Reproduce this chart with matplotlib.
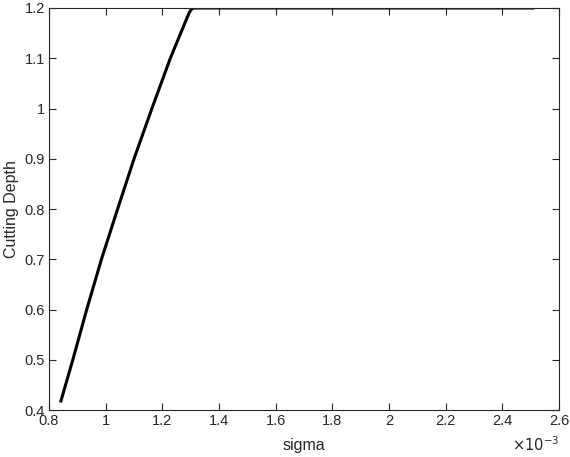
import matplotlib
matplotlib.use('Agg')
from matplotlib import pyplot as plt
from matplotlib.ticker import FuncFormatter

# Werte (sigma in Einheiten von 1e-3)
sigma = [0.842, 0.884, 0.933, 0.985, 1.042, 1.100, 1.163, 1.228, 1.294, 1.303, 1.312, 2.507]
depth = [0.418, 0.50, 0.60, 0.70, 0.80, 0.90, 1.00, 1.10, 1.19, 1.198, 1.20, 1.20]

x_ticks = [0.8, 1.0, 1.2, 1.4, 1.6, 1.8, 2.0, 2.2, 2.4, 2.6]
y_ticks = [0.4, 0.5, 0.6, 0.7, 0.8, 0.9, 1.0, 1.1, 1.2]

plt.rcParams['font.family'] = ['Liberation Sans', 'DejaVu Sans']
axcol = '#262626'

fig = plt.figure(figsize=(5.7, 4.57), dpi=100)
ax = fig.add_axes([0.086, 0.1028, 0.895, 0.8797])

ax.plot([s * 1e-3 for s in sigma], depth, color='black', lw=2.2)

ax.set_xlim(0.8e-3, 2.6e-3)
ax.set_ylim(0.4, 1.2)
ax.set_xticks([t * 1e-3 for t in x_ticks])
ax.set_yticks(y_ticks)
ax.xaxis.set_major_formatter(FuncFormatter(lambda v, p: ('%g' % round(v * 1e3, 3))))
ax.yaxis.set_major_formatter(FuncFormatter(lambda v, p: ('%g' % round(v, 3))))

ax.tick_params(direction='in', top=True, right=True, length=5, width=0.8,
               colors=axcol, labelsize=10.5, labelcolor=axcol, pad=3)
for sp in ax.spines.values():
    sp.set_color(axcol)
    sp.set_linewidth(0.8)

ax.set_xlabel('sigma', fontsize=11.5, color=axcol, labelpad=7)
ax.set_ylabel('Cutting Depth', fontsize=11.5, color=axcol, labelpad=4)
ax.text(1.0, -0.086, r'$\times10^{-3}$', transform=ax.transAxes, fontsize=10.5,
        color=axcol, ha='right', va='center')

fig.savefig('out.png', dpi=100)
